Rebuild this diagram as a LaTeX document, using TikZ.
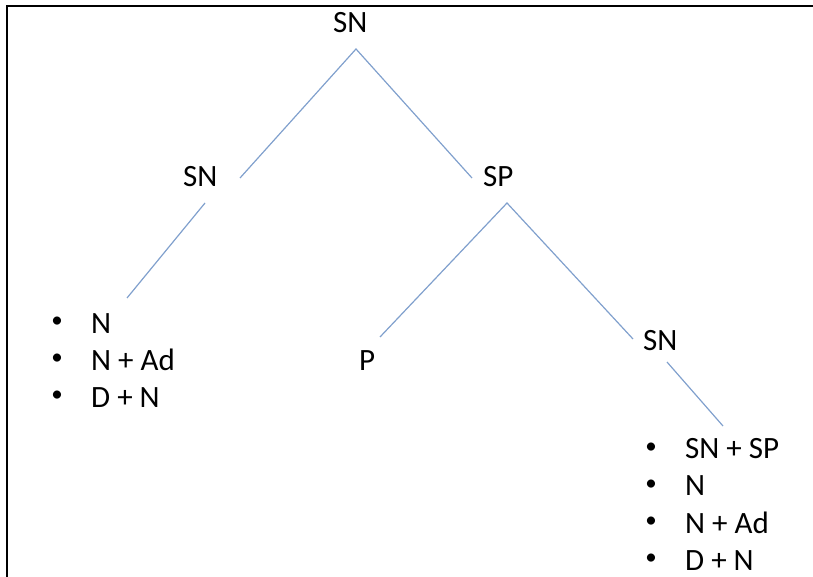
\documentclass[tikz,border=0pt]{standalone}
\usepackage{fontspec}
\setmainfont{Carlito}
\begin{document}
\begin{tikzpicture}[x=1pt,y=-1pt,
  lbl/.style={anchor=base west,inner sep=0pt,font=\fontsize{31}{36}\selectfont},
  dot/.style={anchor=center,inner sep=0pt,font=\fontsize{23}{26}\selectfont},
  branch/.style={draw=branchblue,line width=1.2pt},
  frame/.style={draw=black,line width=2pt}]
\definecolor{branchblue}{RGB}{128,160,205}
\useasboundingbox (0,0) rectangle (813,577);
% outer frame (top and left edges)
\draw[frame] (813,6.5) -- (7,6.5) -- (7,577);

% tree labels
\node[lbl] (root) at (333,33) {SN};
\node[lbl] (sn1) at (183,187) {SN};
\node[lbl] (sp) at (483,187) {SP};
\node[lbl] (p) at (359,370) {P};
\node[lbl] (sn2) at (643,350) {SN};

% left expansion list
\node[dot] (b1) at (57,322) {\textbullet};
\node[dot] (b2) at (57,359) {\textbullet};
\node[dot] (b3) at (57,396) {\textbullet};
\node[lbl] (l1) at (91,333) {N};
\node[lbl] (l2) at (91,370) {N + Ad};
\node[lbl] (l3) at (91,407) {D + N};

% right expansion list
\node[dot] (c1) at (651,448) {\textbullet};
\node[dot] (c2) at (651,485) {\textbullet};
\node[dot] (c3) at (651,522) {\textbullet};
\node[dot] (c4) at (651,559) {\textbullet};
\node[lbl] (r1) at (685,458) {SN + SP};
\node[lbl] (r2) at (685,495) {N};
\node[lbl] (r3) at (685,533) {N + Ad};
\node[lbl] (r4) at (685,570) {D + N};

% branch end points
\coordinate (rootA) at (356,49);
\coordinate (sn1T) at (240,178);
\coordinate (spT) at (472,178);
\coordinate (sn1A) at (205,203);
\coordinate (l1T) at (127,298);
\coordinate (spA) at (507,203);
\coordinate (pT) at (380,337);
\coordinate (sn2T) at (633,339);
\coordinate (sn2A) at (667,362);
\coordinate (r1T) at (723,426);

% branches
\draw[branch] (sn1T) -- (rootA) -- (spT);
\draw[branch] (sn1A) -- (l1T);
\draw[branch] (pT) -- (spA) -- (sn2T);
\draw[branch] (sn2A) -- (r1T);
\end{tikzpicture}
\end{document}
